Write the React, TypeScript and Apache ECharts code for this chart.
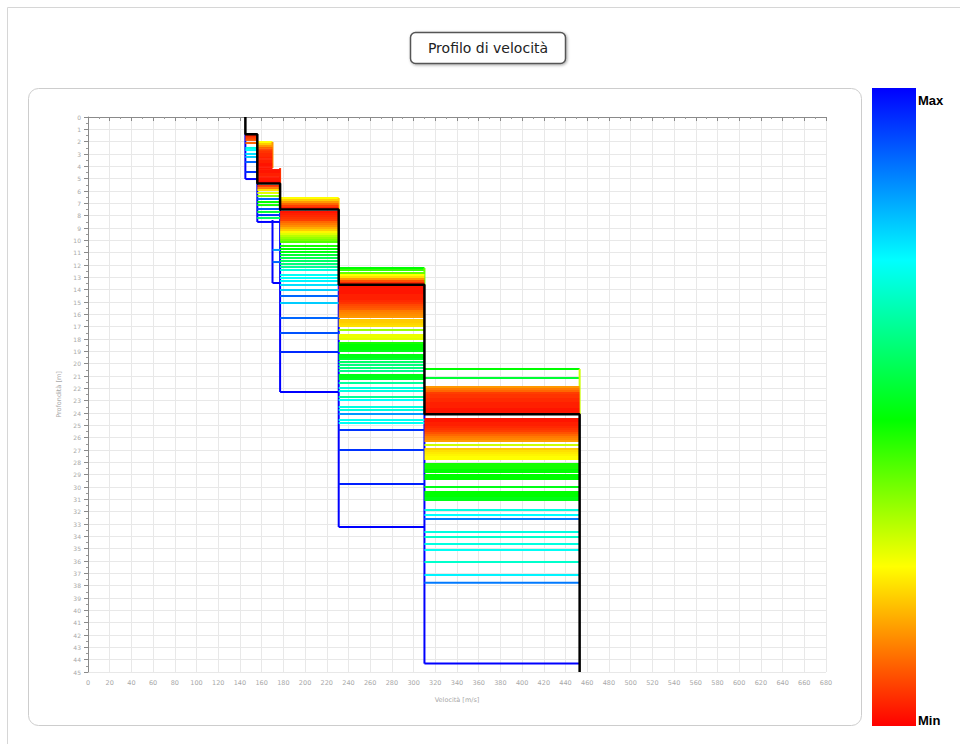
import React, { useEffect, useRef } from "react";
import * as echarts from "echarts";

// Velocity axis (m/s) and depth axis (m)
const velocityMax = 680;
const velocityStep = 20;
const depthMax = 45;
const depthStep = 1;

// Best-fitting model: layer velocities and interface depths
const bestVelocities = [145, 156, 177, 231, 310, 453];
const bestDepths = [1.4, 5.4, 7.5, 13.6, 24.1];

// Alternative interface depths [depth, misfit level 0 = Min .. 1 = Max]
const interface1 = [[1.54, 0.04], [1.7, 0.06], [1.86, 0.08], [2.11, 0.1], [2.51, 0.72], [2.68, 0.75], [3.0, 0.78], [3.24, 0.8], [3.65, 0.9], [4.46, 0.95], [5.03, 1.0]];
const interface2a = [[2.03, 0.25], [2.19, 0.2], [2.35, 0.15], [2.51, 0.1], [2.68, 0.06], [2.84, 0.05], [3.0, 0.04], [3.16, 0.04], [3.32, 0.03], [3.49, 0.03], [3.65, 0.03], [3.81, 0.02], [3.97, 0.02], [4.14, 0.02]];
const interface2b = [[4.3, 0.02], [4.46, 0.02], [4.62, 0.03], [4.78, 0.03], [4.95, 0.02], [5.11, 0.02], [5.27, 0.01], [5.59, 0.05], [5.76, 0.12], [5.92, 0.22], [6.16, 0.28], [6.41, 0.38], [6.65, 0.9], [6.89, 0.5], [7.14, 0.48], [7.46, 0.92], [7.7, 0.55], [7.95, 0.95], [8.19, 0.6], [8.51, 1.0]];
const interface2c = [[10.78, 0.85], [11.76, 0.9], [13.46, 1.0]];
const interface3 = [[6.57, 0.25], [6.73, 0.2], [6.89, 0.15], [7.05, 0.1], [7.22, 0.06], [7.38, 0.03], [7.7, 0.02], [7.86, 0.03], [8.03, 0.04], [8.19, 0.05], [8.35, 0.06], [8.51, 0.1], [8.68, 0.12], [8.84, 0.14], [9.0, 0.17], [9.16, 0.2], [9.32, 0.24], [9.49, 0.28], [9.65, 0.32], [9.81, 0.35], [9.97, 0.38], [10.14, 0.42], [10.46, 0.48], [10.7, 0.5], [10.95, 0.52], [11.19, 0.55], [11.43, 0.58], [11.68, 0.6], [11.92, 0.62], [12.16, 0.65], [12.41, 0.72], [12.81, 0.74], [13.05, 0.75], [13.3, 0.76], [13.62, 0.78], [14.03, 0.8], [14.51, 0.9], [15.08, 0.8], [16.3, 0.9], [17.51, 0.92], [19.05, 0.96], [22.3, 1.0]];
const interface4 = [[12.24, 0.5], [12.41, 0.45], [12.65, 0.4], [12.81, 0.25], [12.97, 0.22], [13.14, 0.15], [13.3, 0.08], [13.46, 0.04], [13.78, 0.02], [13.95, 0.02], [14.11, 0.02], [14.27, 0.02], [14.43, 0.03], [14.59, 0.03], [14.76, 0.03], [14.92, 0.04], [15.08, 0.05], [15.24, 0.07], [15.41, 0.08], [15.57, 0.09], [15.73, 0.12], [15.89, 0.13], [16.05, 0.14], [16.22, 0.15], [16.46, 0.2], [16.62, 0.2], [16.78, 0.21], [16.95, 0.22], [17.27, 0.35], [17.68, 0.27], [17.84, 0.27], [18.0, 0.28], [18.32, 0.48], [18.49, 0.5], [18.65, 0.5], [18.81, 0.5], [18.97, 0.52], [19.3, 0.52], [19.46, 0.52], [19.62, 0.54], [19.86, 0.6], [20.11, 0.62], [20.35, 0.62], [20.59, 0.63], [20.92, 0.52], [21.08, 0.52], [21.24, 0.53], [21.57, 0.65], [21.97, 0.72], [22.22, 0.72], [22.7, 0.65], [22.95, 0.75], [23.51, 0.72], [23.76, 0.72], [24.08, 0.85], [24.57, 0.74], [24.81, 0.74], [25.38, 0.95], [27.0, 0.95], [29.76, 0.97], [33.24, 1.0]];
const interface5 = [[20.43, 0.5], [21.16, 0.55], [21.89, 0.15], [22.05, 0.12], [22.22, 0.1], [22.38, 0.06], [22.54, 0.05], [22.7, 0.05], [22.86, 0.04], [23.03, 0.04], [23.19, 0.03], [23.35, 0.03], [23.51, 0.03], [23.68, 0.02], [23.84, 0.02], [24.0, 0.02], [24.49, 0.02], [24.65, 0.02], [24.81, 0.03], [24.97, 0.03], [25.14, 0.04], [25.3, 0.05], [25.46, 0.06], [25.62, 0.08], [25.78, 0.1], [25.95, 0.12], [26.11, 0.13], [26.27, 0.15], [26.59, 0.3], [26.92, 0.2], [27.08, 0.22], [27.24, 0.23], [27.41, 0.24], [27.57, 0.25], [27.73, 0.25], [28.14, 0.48], [28.3, 0.48], [28.46, 0.48], [28.62, 0.5], [28.78, 0.5], [29.03, 0.5], [29.19, 0.5], [29.35, 0.5], [30.0, 0.52], [30.41, 0.5], [30.57, 0.5], [30.73, 0.5], [30.89, 0.52], [31.05, 0.52], [31.86, 0.72], [32.27, 0.75], [32.59, 0.88], [33.65, 0.72], [34.05, 0.7], [34.62, 0.72], [35.11, 0.74], [36.08, 0.7], [37.14, 0.76], [37.76, 0.88], [44.32, 1.0]];

// Velocity span of each group of interfaces
const interfaceGroups = [
  { from: 145, to: 156, lines: interface1 },
  { from: 156, to: 170, lines: interface2a },
  { from: 156, to: 177, lines: interface2b },
  { from: 170, to: 177, lines: interface2c },
  { from: 177, to: 231, lines: interface3 },
  { from: 231, to: 310, lines: interface4 },
  { from: 310, to: 453, lines: interface5 },
];

// Vertical layer edges of the alternative models [velocity, top, bottom, level]
const layerEdges = [
  [145, 1.4, 5.03, 1.0],
  [156, 5.4, 8.51, 1.0],
  [170, 8.35, 13.46, 1.0],
  [177, 7.5, 22.3, 1.0],
  [231, 13.6, 33.24, 1.0],
  [310, 24.1, 44.32, 1.0],
  [170, 2.03, 4.14, 0.15],
  [177, 4.14, 5.4, 0.05],
  [231, 6.57, 7.5, 0.2],
  [310, 12.24, 13.6, 0.4],
  [453, 20.43, 24.1, 0.3],
];

const scaleColors = ["#ff0000", "#ffff00", "#00ff00", "#00ffff", "#0000ff"];

export default function App() {
  const ref = useRef<HTMLDivElement>(null);

  useEffect(() => {
    if (!ref.current) return;
    const chart = echarts.init(ref.current, null, { renderer: "svg" });

    // segments: [x1, y1, x2, y2, level]
    const segments: number[][] = [];
    layerEdges.forEach(([v, top, bottom, level]) => segments.push([v, top, v, bottom, level]));
    interfaceGroups.forEach((g) =>
      g.lines.forEach(([d, level]) => segments.push([g.from, d, g.to, d, level]))
    );
    segments.sort((a, b) => b[4] - a[4]);

    const bestPath: number[][] = [[bestVelocities[0], 0]];
    bestDepths.forEach((d, i) => {
      bestPath.push([bestVelocities[i], d]);
      bestPath.push([bestVelocities[i + 1], d]);
    });
    bestPath.push([bestVelocities[bestVelocities.length - 1], depthMax]);

    const axisText = { fontSize: 6.5, color: "#a8a8a8", fontFamily: "DejaVu Sans" };

    chart.setOption({
      animation: false,
      backgroundColor: "#ffffff",
      grid: { left: 88, top: 117, width: 738, height: 555, containLabel: false },
      xAxis: {
        type: "value",
        min: 0,
        max: velocityMax,
        interval: velocityStep,
        name: "Velocità [m/s]",
        nameLocation: "middle",
        nameGap: 24,
        nameTextStyle: axisText,
        axisLine: { lineStyle: { color: "#8a8a8a", width: 1 } },
        axisTick: { show: true, length: 4, lineStyle: { color: "#8a8a8a" } },
        minorTick: { show: true, splitNumber: 2, length: 2, lineStyle: { color: "#9a9a9a" } },
        axisLabel: { ...axisText, margin: 7 },
        splitLine: { show: true, lineStyle: { color: "#e8e8e8", width: 1 } },
      },
      yAxis: {
        type: "value",
        inverse: true,
        min: 0,
        max: depthMax,
        interval: depthStep,
        name: "Profondità [m]",
        nameLocation: "middle",
        nameGap: 22,
        nameRotate: 90,
        nameTextStyle: axisText,
        axisLine: { show: true, lineStyle: { color: "#8a8a8a", width: 1 } },
        axisTick: { show: true, length: 4, lineStyle: { color: "#8a8a8a" } },
        minorTick: { show: true, splitNumber: 2, length: 2, lineStyle: { color: "#9a9a9a" } },
        axisLabel: { ...axisText, fontSize: 6, margin: 7 },
        splitLine: { show: true, lineStyle: { color: "#e8e8e8", width: 1 } },
      },
      visualMap: {
        type: "continuous",
        show: false,
        min: 0,
        max: 1,
        dimension: 4,
        seriesIndex: 0,
        inRange: { color: scaleColors },
      },
      series: [
        {
          type: "custom",
          z: 2,
          data: segments,
          encode: { x: [0, 2], y: [1, 3] },
          renderItem: (_params: any, api: any) => {
            const p1 = api.coord([api.value(0), api.value(1)]);
            const p2 = api.coord([api.value(2), api.value(3)]);
            return {
              type: "line",
              shape: { x1: p1[0], y1: p1[1], x2: p2[0], y2: p2[1] },
              style: { stroke: api.visual("color"), lineWidth: 2 },
            };
          },
        },
        {
          type: "line",
          z: 5,
          data: bestPath,
          showSymbol: false,
          symbol: "none",
          lineStyle: { color: "#000000", width: 2.5 },
        },
      ],
      graphic: [
        {
          type: "rect",
          shape: { x: 7.5, y: 7.5, width: 980, height: 760 },
          style: { fill: "none", stroke: "#d6d6d6", lineWidth: 1 },
          silent: true,
        },
        {
          type: "rect",
          shape: { x: 28.5, y: 88.5, width: 833, height: 637, r: 10 },
          style: { fill: "none", stroke: "#cdcdcd", lineWidth: 1 },
          silent: true,
        },
        {
          type: "rect",
          shape: { x: 410.5, y: 32.5, width: 155, height: 31, r: 5 },
          style: {
            fill: "#ffffff",
            stroke: "#555555",
            lineWidth: 1.5,
            shadowBlur: 3,
            shadowColor: "rgba(0,0,0,0.35)",
            shadowOffsetX: 1,
            shadowOffsetY: 1,
          },
          silent: true,
        },
        {
          type: "text",
          x: 488,
          y: 48,
          style: {
            text: "Profilo di velocità",
            fontSize: 14,
            fontFamily: "DejaVu Sans",
            fill: "#222222",
            align: "center",
            verticalAlign: "middle",
          },
        },
        {
          type: "rect",
          shape: { x: 872, y: 88, width: 44, height: 638 },
          style: {
            fill: new echarts.graphic.LinearGradient(0, 0, 0, 1, [
              { offset: 0, color: scaleColors[4] },
              { offset: 0.27, color: scaleColors[3] },
              { offset: 0.52, color: scaleColors[2] },
              { offset: 0.75, color: scaleColors[1] },
              { offset: 1, color: scaleColors[0] },
            ]),
          },
          silent: true,
        },
        {
          type: "text",
          x: 918,
          y: 100,
          style: {
            text: "Max",
            fontSize: 13,
            fontWeight: "bold",
            fontFamily: "Liberation Sans",
            fill: "#000000",
            align: "left",
            verticalAlign: "middle",
          },
        },
        {
          type: "text",
          x: 918,
          y: 720,
          style: {
            text: "Min",
            fontSize: 13,
            fontWeight: "bold",
            fontFamily: "Liberation Sans",
            fill: "#000000",
            align: "left",
            verticalAlign: "middle",
          },
        },
      ],
    });

    return () => chart.dispose();
  }, []);

  return (
    <div
      ref={ref}
      style={{ position: "fixed", left: 0, top: 0, width: 960, height: 744, background: "#fff" }}
    />
  );
}
